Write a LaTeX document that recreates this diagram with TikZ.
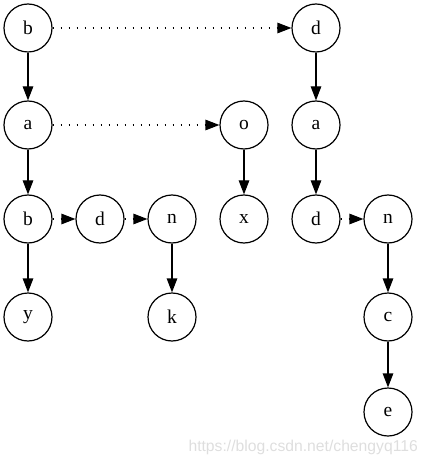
\documentclass[tikz,border=0pt]{standalone}
\usepackage{fontspec}
\setmainfont{Liberation Serif}
\newfontfamily\wmfont{Liberation Sans}
\usetikzlibrary{arrows.meta}
\begin{document}
\begin{tikzpicture}[x=1pt,y=-1pt,
  vtx/.style={circle,draw=black,line width=1.2pt,minimum size=48pt,inner sep=0pt,font=\fontsize{19.5}{21}\selectfont},
  edge/.style={line width=1.2pt,-{Triangle[length=14pt,width=10.5pt]}},
  link/.style={edge,dash pattern=on 1.2pt off 6.8pt}]
\useasboundingbox (0,0) rectangle (428,462);
\node[vtx] (b1) at (28,28) {b};
\node[vtx] (d1) at (316,28) {d};
\node[vtx] (a1) at (28,125) {a};
\node[vtx] (o) at (244,125) {o};
\node[vtx] (a2) at (316,125) {a};
\node[vtx] (b2) at (28,219) {b};
\node[vtx] (d2) at (100,219) {d};
\node[vtx] (n1) at (172,219) {n};
\node[vtx] (x) at (244,219) {x};
\node[vtx] (d3) at (316,219) {d};
\node[vtx] (n2) at (388,219) {n};
\node[vtx] (y) at (28,317) {y};
\node[vtx] (k) at (172,317) {k};
\node[vtx] (c) at (388,317) {c};
\node[vtx] (e) at (388,412) {e};
\draw[link] (b1) -- (d1);
\draw[link] (a1) -- (o);
\draw[link] (b2) -- (d2);
\draw[link] (d2) -- (n1);
\draw[link] (d3) -- (n2);
\draw[edge] (b1) -- (a1);
\draw[edge] (a1) -- (b2);
\draw[edge] (b2) -- (y);
\draw[edge] (n1) -- (k);
\draw[edge] (o) -- (x);
\draw[edge] (d1) -- (a2);
\draw[edge] (a2) -- (d3);
\draw[edge] (n2) -- (c);
\draw[edge] (c) -- (e);
\node[anchor=base east,inner sep=0pt,text=black!13,font=\wmfont\fontsize{15.7}{17}\selectfont] (wm) at (418,451) {https://blog.csdn.net/chengyq116};
\end{tikzpicture}
\end{document}
